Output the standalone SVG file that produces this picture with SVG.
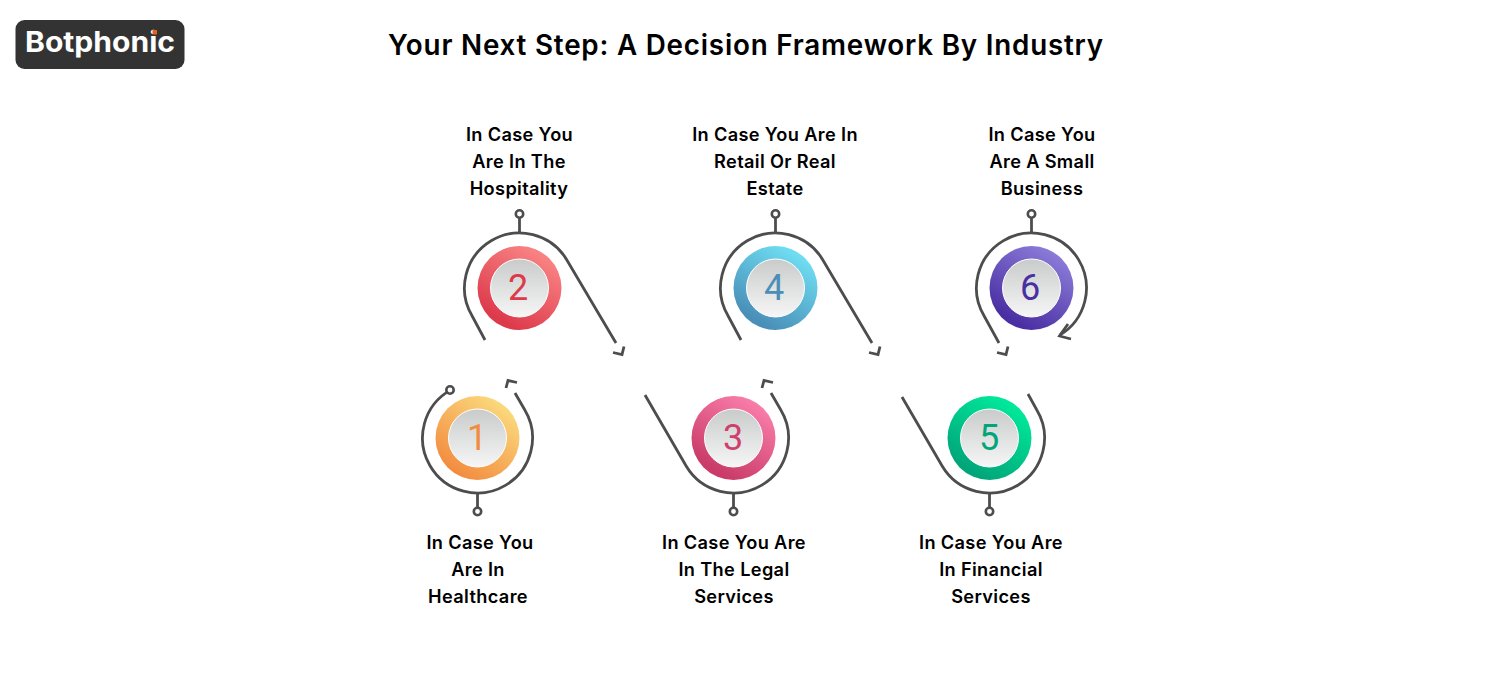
<svg xmlns="http://www.w3.org/2000/svg" width="1500" height="700" viewBox="0 0 1500 700">
<style>
.t{font-family:"Inter","Liberation Sans",sans-serif;fill:#000}
.title{font-size:28px;font-weight:600;letter-spacing:.8px}
.l{font-size:18.2px;font-weight:600;text-anchor:middle;letter-spacing:.35px}
.d{font-family:"Roboto","Liberation Sans",sans-serif;font-size:36px;font-weight:400;text-anchor:middle}
.c path,.c line{fill:none;stroke:#4d4d4d;stroke-width:2.8}
.c circle{fill:#fff;stroke:#4d4d4d;stroke-width:2.6}
.r{stroke:#fff;stroke-width:1;fill:url(#g0)}
</style>
<defs>
<linearGradient id="g0" x1="0" y1="0" x2="0" y2="1"><stop offset="0" stop-color="#c9cbcb"/><stop offset="1" stop-color="#f6f6f6"/></linearGradient>
<linearGradient id="g1" x1=".8" y1=".1" x2=".2" y2=".9"><stop offset="0" stop-color="#fbd97c"/><stop offset="1" stop-color="#f28b3f"/></linearGradient>
<linearGradient id="g2" x1=".8" y1=".1" x2=".3" y2=".9"><stop offset="0" stop-color="#f98484"/><stop offset="1" stop-color="#dd3a4c"/></linearGradient>
<linearGradient id="g3" x1=".8" y1=".1" x2=".3" y2=".9"><stop offset="0" stop-color="#f97da9"/><stop offset="1" stop-color="#c93b69"/></linearGradient>
<linearGradient id="g4" x1=".8" y1=".1" x2=".3" y2=".9"><stop offset="0" stop-color="#6fdff3"/><stop offset="1" stop-color="#4a8fb8"/></linearGradient>
<linearGradient id="g5" x1=".8" y1=".1" x2=".3" y2=".9"><stop offset="0" stop-color="#00ea9b"/><stop offset="1" stop-color="#00a67a"/></linearGradient>
<linearGradient id="g6" x1=".8" y1=".1" x2=".3" y2=".9"><stop offset="0" stop-color="#8b7bd8"/><stop offset="1" stop-color="#4a2fa2"/></linearGradient>
</defs>
<rect width="1500" height="700" fill="#fff"/>
<g id="logo">
<rect x="15.500" y="20" width="169" height="49" rx="9" fill="#333"/>
<text x="25" y="52" font-family="Inter,'Liberation Sans',sans-serif" font-size="28" font-weight="700" fill="#fff" textLength="150" lengthAdjust="spacingAndGlyphs">Botphonic</text>
<rect x="152.500" y="30" width="4.500" height="4.500" fill="#e8621c"/>
</g>
<text class="t title" x="388" y="55" textLength="716" lengthAdjust="spacingAndGlyphs">Your Next Step: A Decision Framework By Industry</text>
<g id="connectors" class="c">
<path d="M450.400 390.100A55 55 0 1 0 524.700 409.700L515 393"/>
<path d="M506 388L508 380.500L517 382.500"/>
<line x1="477.500" y1="493" x2="477.500" y2="507"/><circle cx="477.500" cy="511.500" r="3.700"/>
<circle cx="450" cy="390" r="3.700"/>
<path d="M485 340L472.300 316.300A55 55 0 1 1 566.700 259.700L616 343"/>
<path d="M613 352.500L622 354.500L624 346.500"/>
<line x1="519.500" y1="233" x2="519.500" y2="218"/><circle cx="519.500" cy="214" r="3.700"/>
<path d="M645 395L686.300 466.300A55 55 0 0 0 780.700 409.700L771 393"/>
<path d="M762 388L764 380.500L773 382.500"/>
<line x1="733.500" y1="493" x2="733.500" y2="507"/><circle cx="733.500" cy="511.500" r="3.700"/>
<path d="M741 340L728.300 316.300A55 55 0 1 1 822.700 259.700L872 343"/>
<path d="M869 352.500L878 354.500L880 346.500"/>
<line x1="775.500" y1="233" x2="775.500" y2="218"/><circle cx="775.500" cy="214" r="3.700"/>
<path d="M902 397L942.300 466.300A55 55 0 0 0 1036.700 409.700L1028 394"/>
<line x1="989.500" y1="493" x2="989.500" y2="507"/><circle cx="989.500" cy="511.500" r="3.700"/>
<path d="M999 343L984.300 316.300A55 55 0 1 1 1059.800 335.100"/>
<path d="M997 352.500L1006 354.500L1008 346.500"/>
<path d="M1071 339L1059.500 336L1068 324"/>
<line x1="1031.500" y1="233" x2="1031.500" y2="218"/><circle cx="1031.500" cy="214" r="3.700"/>
</g>
<g id="node1"><circle cx="477.500" cy="438" r="42" fill="url(#g1)"/><circle class="r" cx="477.500" cy="438" r="29"/><text class="d" x="477" y="450" fill="#f28b3f">1</text><text class="t l"><tspan x="480" y="549">In Case You</tspan><tspan x="478" y="576">Are In</tspan><tspan x="478" y="603">Healthcare</tspan></text></g>
<g id="node2"><circle cx="519.500" cy="288" r="42" fill="url(#g2)"/><circle class="r" cx="519.500" cy="288" r="29"/><text class="d" x="518" y="300" fill="#dd3a4c">2</text><text class="t l"><tspan x="519.500" y="141">In Case You</tspan><tspan x="519" y="168">Are In The</tspan><tspan x="519" y="195">Hospitality</tspan></text></g>
<g id="node3"><circle cx="733.500" cy="438" r="42" fill="url(#g3)"/><circle class="r" cx="733.500" cy="438" r="29"/><text class="d" x="733" y="450" fill="#cf3f6e">3</text><text class="t l"><tspan x="734" y="549">In Case You Are</tspan><tspan x="734" y="576">In The Legal</tspan><tspan x="734" y="603">Services</tspan></text></g>
<g id="node4"><circle cx="775.500" cy="288" r="42" fill="url(#g4)"/><circle class="r" cx="775.500" cy="288" r="29"/><text class="d" x="774" y="300" fill="#4a8fb8">4</text><text class="t l"><tspan x="775" y="141">In Case You Are In</tspan><tspan x="775" y="168">Retail Or Real</tspan><tspan x="775" y="195">Estate</tspan></text></g>
<g id="node5"><circle cx="989.500" cy="438" r="42" fill="url(#g5)"/><circle class="r" cx="989.500" cy="438" r="29"/><text class="d" x="989" y="450" fill="#00a67a">5</text><text class="t l"><tspan x="991" y="549">In Case You Are</tspan><tspan x="991" y="576">In Financial</tspan><tspan x="991" y="603">Services</tspan></text></g>
<g id="node6"><circle cx="1031.500" cy="288" r="42" fill="url(#g6)"/><circle class="r" cx="1031.500" cy="288" r="29"/><text class="d" x="1030" y="300" fill="#4a2fa2">6</text><text class="t l"><tspan x="1042" y="141">In Case You</tspan><tspan x="1042" y="168">Are A Small</tspan><tspan x="1042" y="195">Business</tspan></text></g>
</svg>
